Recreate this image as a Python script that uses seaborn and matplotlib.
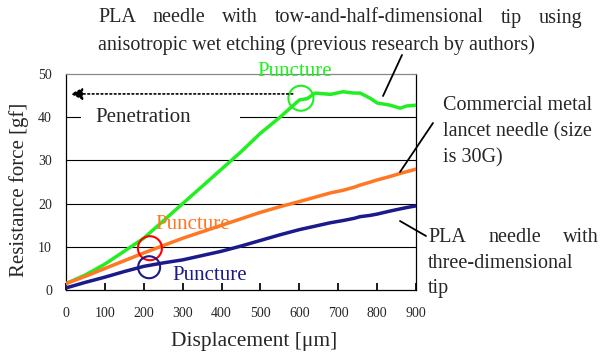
import pandas as pd
import seaborn as sns
import matplotlib.pyplot as plt
from matplotlib.patches import Ellipse, Rectangle

# values
disp = [0, 50, 100, 150, 200, 250, 300, 350, 400, 450, 500, 550, 600, 620, 640,
        680, 712, 740, 756, 782, 800, 833, 859, 875, 900]
pla_2_5d = [1.5, 3.5, 6.0, 9.0, 12.0, 16.0, 20.0, 24.0, 28.0, 32.0, 36.3, 40.0, 44.0,
            44.3, 45.6, 45.3, 45.9, 45.6, 45.6, 44.4, 43.3, 42.8, 42.1, 42.6, 42.8]
metal = [1.5, 3.2, 5.0, 6.8, 8.6, 10.3, 12.0, 13.5, 15.0, 16.5, 18.0, 19.3, 20.5,
         21.0, 21.5, 22.5, 23.1, 23.8, 24.3, 25.0, 25.5, 26.3, 27.0, 27.4, 28.0]
pla_3d = [0.5, 1.8, 3.0, 4.3, 5.5, 6.3, 7.0, 8.0, 9.0, 10.2, 11.5, 12.8, 14.0,
          14.4, 14.8, 15.6, 16.1, 16.6, 17.0, 17.3, 17.6, 18.3, 18.8, 19.1, 19.5]

series = {"pla_2_5d": pla_2_5d, "metal": metal, "pla_3d": pla_3d}
colors = {"pla_2_5d": "#22ee22", "metal": "#ff7722", "pla_3d": "#1a1a8c"}

df = pd.DataFrame({"disp": disp, **series}).melt(id_vars="disp", var_name="needle", value_name="force")

sns.set_theme(style="white")
plt.rcParams["font.family"] = ["Liberation Serif", "DejaVu Serif"]

fig = plt.figure(figsize=(6.04, 3.56), dpi=100)
ax = fig.add_axes([0.109, 0.185, 0.58, 0.607])

for y in [10, 20, 30, 40]:
    ax.axhline(y, color="black", lw=0.8, zorder=1)

sns.lineplot(data=df, x="disp", y="force", hue="needle", palette=colors,
             lw=2.5, legend=False, ax=ax, zorder=3)

ax.set_xlim(0, 900)
ax.set_ylim(0, 50)
ax.set_xticks(range(0, 901, 100))
ax.set_yticks(range(0, 51, 10))
ax.tick_params(axis="both", direction="in", length=5, labelsize=10, color="black",
               bottom=True, left=False)
ax.tick_params(axis="x", pad=12)
ax.tick_params(axis="y", pad=10)
for s in ax.spines.values():
    s.set_color("black")
    s.set_linewidth(0.9)
ax.spines["top"].set_color("#888888")

ax.set_xlabel("Displacement [μm]", fontsize=15.5)
ax.set_ylabel("Resistance force [gf]", fontsize=15)
ax.xaxis.set_label_coords(0.537, -0.195)
ax.yaxis.set_label_coords(-0.106, 0.463)

# puncture circles (ellipses in data units so they look round)
sx, sy = 900 / 350, 50 / 216
ax.add_patch(Ellipse((216, 9.7), 24 * sx, 24 * sy, fill=False, ec="red", lw=1.5, zorder=4))
ax.add_patch(Ellipse((214, 5.3), 22 * sx, 22 * sy, fill=False, ec="#1a1a8c", lw=1.5, zorder=4))
ax.add_patch(Ellipse((604, 44.4), 25 * sx, 25 * sy, fill=False, ec="#22ee22", lw=1.5, zorder=4))

ax.text(491, 50.6, "Puncture", color="#22ee22", fontsize=15, ha="left", va="center", zorder=5)
ax.text(229, 15.3, "Puncture", color="#ff7722", fontsize=15, ha="left", va="center", zorder=5)
ax.text(274, 3.5, "Puncture", color="#1a1a8c", fontsize=15, ha="left", va="center", zorder=5)

# penetration arrow
ax.annotate("", xy=(5, 45.4), xytext=(590, 45.4),
            arrowprops=dict(arrowstyle="-|>", ls=":", lw=1.2, color="black",
                            mutation_scale=18), zorder=5)
ax.add_patch(Rectangle((39, 38), 408, 4, fc="white", ec="none", zorder=2))
ax.text(77, 40.0, "Penetration", fontsize=15, ha="left", va="center", zorder=5)

# outside labels
fig.canvas.draw()
renderer = fig.canvas.get_renderer()


def justified(words, x0, x1, y):
    # spread words between x0 and x1 (pixels), like justified text
    arts = [fig.text(0, 1 - y / 356, w, fontsize=14.5, ha="left", va="center") for w in words]
    widths = [a.get_window_extent(renderer).width for a in arts]
    gap = (x1 - x0 - sum(widths)) / (len(words) - 1)
    x = x0
    for a, w in zip(arts, widths):
        a.set_x(x / 604)
        x += w + gap


def plain(text, x0, y):
    fig.text(x0 / 604, 1 - y / 356, text, fontsize=14.5, ha="left", va="center")


def leader(x0, y0, x1, y1):
    fig.add_artist(plt.Line2D([x0 / 604, x1 / 604], [1 - y0 / 356, 1 - y1 / 356],
                              color="black", lw=1.3))


justified(["PLA", "needle", "with", "tow-and-half-dimensional", "tip", "using"], 98, 582, 18)
plain("anisotropic wet etching (previous research by authors)", 98, 45)
leader(402, 55, 383, 96)

plain("Commercial metal", 443, 105)
plain("lancet needle (size", 443, 132)
plain("is 30G)", 443, 158)
leader(433, 123, 400, 172)

justified(["PLA", "needle", "with"], 428, 599, 237)
plain("three-dimensional", 428, 263)
plain("tip", 428, 288)
leader(400, 221, 426, 236)

fig.savefig("out.png", dpi=100)
